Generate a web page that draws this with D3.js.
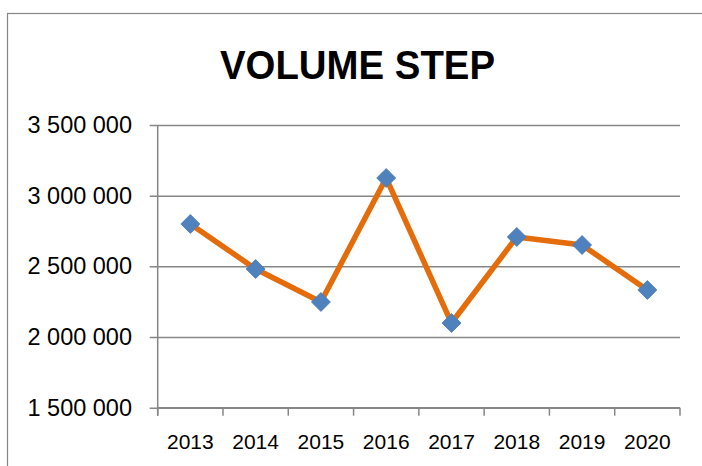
<!DOCTYPE html>
<html>
<head>
<meta charset="utf-8">
<script src="https://cdn.jsdelivr.net/npm/d3@7"></script>
<style>
  html, body { margin: 0; padding: 0; background: #fff; }
  svg { display: block; font-family: "Liberation Sans", Arial, sans-serif; }
</style>
</head>
<body>
<div id="chart"></div>
<script>
// Chart values
const years = ['2013', '2014', '2015', '2016', '2017', '2018', '2019', '2020'];
const volumes = [2800000, 2481000, 2248000, 3125000, 2099000, 2708000, 2651000, 2333000];
const yTicks = [1500000, 2000000, 2500000, 3000000, 3500000];
const title = 'VOLUME STEP';

const width = 702,
    height = 466;

// Plot area box
const plot = {left: 157.7, right: 680, top: 125, bottom: 407.7};

const svg = d3.select('#chart').append('svg')
  .attr('width', width)
  .attr('height', height);

// Outer chart frame (runs off the right and bottom edges)
svg.append('rect')
  .attr('x', 7.5)
  .attr('y', 13.5)
  .attr('width', width + 10)
  .attr('height', height + 10)
  .attr('fill', 'none')
  .attr('stroke', '#868686')
  .attr('stroke-width', 1.2);

// Title
svg.append('text')
  .attr('x', 357.5)
  .attr('y', 78.5)
  .attr('text-anchor', 'middle')
  .attr('font-weight', 'bold')
  .attr('font-size', 40)
  .attr('textLength', 275)
  .attr('lengthAdjust', 'spacingAndGlyphs')
  .attr('fill', '#000')
  .text(title);

const x = d3.scaleBand()
  .domain(years)
  .range([plot.left, plot.right]);

const y = d3.scaleLinear()
  .domain([1500000, 3500000])
  .range([plot.bottom, plot.top]);

const fmt = d => d3.format(',')(d).replace(/,/g, ' ');

// Horizontal gridlines + y ticks
const yAxis = d3.axisLeft(y)
  .tickValues(yTicks)
  .tickSize(8)
  .tickPadding(17.7)
  .tickFormat(fmt);

const gy = svg.append('g')
  .attr('transform', `translate(${plot.left},0)`)
  .call(yAxis);

gy.select('.domain').remove();
gy.selectAll('.tick line')
  .attr('x1', -8)
  .attr('x2', plot.right - plot.left)
  .attr('stroke', '#868686')
  .attr('stroke-width', 1.5);
gy.selectAll('.tick text')
  .attr('font-size', 23.5)
  .attr('fill', '#000')
  .attr('font-family', '"Liberation Sans", Arial, sans-serif');

// Vertical axis line
svg.append('line')
  .attr('x1', plot.left)
  .attr('x2', plot.left)
  .attr('y1', plot.top)
  .attr('y2', plot.bottom + 8)
  .attr('stroke', '#868686')
  .attr('stroke-width', 1.5);

// Category axis: ticks sit on band edges
const gx = svg.append('g')
  .attr('transform', `translate(0,${plot.bottom})`);

gx.append('line')
  .attr('x1', plot.left)
  .attr('x2', plot.right)
  .attr('stroke', '#868686')
  .attr('stroke-width', 1.5);

const edges = years.map(d => x(d)).concat([x(years[years.length - 1]) + x.bandwidth()]);

gx.selectAll('line.tk')
  .data(edges)
  .join('line')
  .attr('class', 'tk')
  .attr('x1', d => d)
  .attr('x2', d => d)
  .attr('y1', 0)
  .attr('y2', 8)
  .attr('stroke', '#868686')
  .attr('stroke-width', 1.5);

gx.selectAll('text')
  .data(years)
  .join('text')
  .attr('x', d => x(d) + x.bandwidth() / 2)
  .attr('y', 41.8)
  .attr('text-anchor', 'middle')
  .attr('font-size', 21)
  .attr('fill', '#000')
  .text(d => d);

// Series line
const line = d3.line()
  .x((d, i) => x(years[i]) + x.bandwidth() / 2)
  .y(d => y(d));

svg.append('path')
  .datum(volumes)
  .attr('d', line)
  .attr('fill', 'none')
  .attr('stroke', '#E46C0A')
  .attr('stroke-width', 5.5)
  .attr('stroke-linejoin', 'round');

// Diamond markers
svg.selectAll('path.mk')
  .data(volumes)
  .join('path')
  .attr('class', 'mk')
  .attr('transform', (d, i) => `translate(${x(years[i]) + x.bandwidth() / 2},${y(d)}) rotate(45)`)
  .attr('d', d3.symbol().type(d3.symbolSquare).size(180)())
  .attr('fill', '#4F81BD')
  .attr('stroke', '#4A7EBB')
  .attr('stroke-width', 0.8);
</script>
</body>
</html>
